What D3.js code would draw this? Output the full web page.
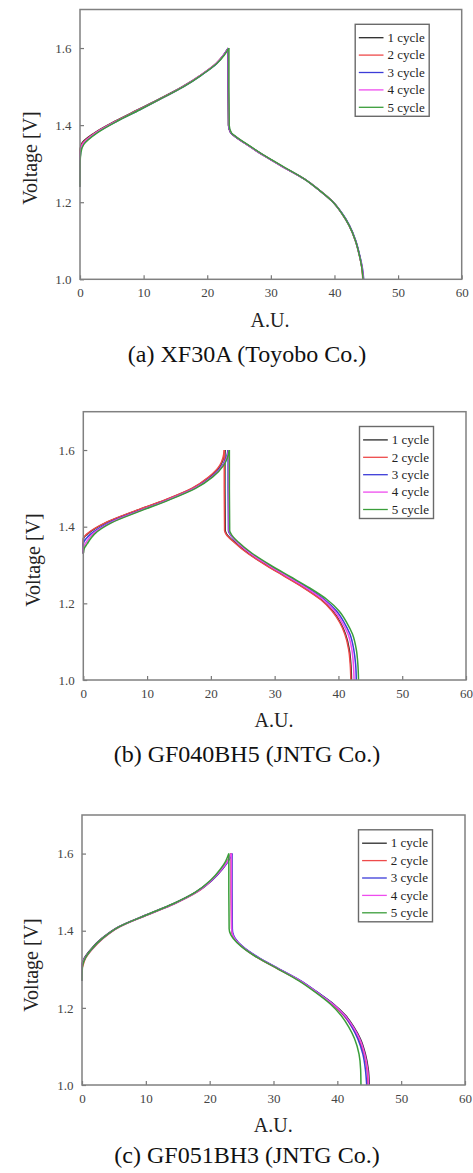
<!DOCTYPE html>
<html>
<head>
<meta charset="utf-8">
<script src="https://cdn.jsdelivr.net/npm/d3@7"></script>
<style>
  body { margin: 0; background: #fff; }
  text { font-family: "Liberation Serif", "Times New Roman", serif; }
</style>
</head>
<body>
<div id="chart"></div>
<script>
// Series names and axis ticks
const cycleNames = ["1 cycle", "2 cycle", "3 cycle", "4 cycle", "5 cycle"];
const xTicks = [0, 10, 20, 30, 40, 50, 60];
const yTicks = [1.0, 1.2, 1.4, 1.6];

// (a) XF30A - charge: voltage grid and capacity per cycle
const chargeV_a = [1.24, 1.30, 1.33, 1.35, 1.38, 1.41, 1.44, 1.47, 1.50, 1.53, 1.56, 1.58, 1.60];
const chargeU_a = [
    [0, 0, 0, 0.2, 2.3, 5.5, 9.1, 12.7, 16.1, 19.0, 21.4, 22.5, 23.3],
    [0, 0, 0, 0.3, 2.4, 5.6, 9.2, 12.8, 16.2, 19.0, 21.4, 22.5, 23.3],
    [0, 0, 0.1, 0.5, 2.6, 5.8, 9.4, 12.9, 16.3, 19.1, 21.5, 22.5, 23.3],
    [0, 0, 0.05, 0.4, 2.5, 5.7, 9.3, 12.9, 16.2, 19.0, 21.4, 22.5, 23.35],
    [0, 0.02, 0.15, 0.6, 2.7, 5.8, 9.4, 12.9, 16.3, 19.1, 21.5, 22.6, 23.4]
];
const dischargeV_a = [1.60, 1.50, 1.40, 1.38, 1.37, 1.35, 1.32, 1.29, 1.26, 1.23, 1.20, 1.17, 1.14, 1.10, 1.06, 1.03, 1.00];
const dischargeU_a = [
    [23.3, 23.3, 23.35, 23.7, 24.4, 26.2, 29.0, 32.1, 35.3, 37.7, 39.8, 41.2, 42.3, 43.3, 43.95, 44.32, 44.5],
    [23.3, 23.3, 23.35, 23.7, 24.4, 26.2, 29.0, 32.1, 35.3, 37.7, 39.8, 41.2, 42.3, 43.3, 43.95, 44.3, 44.45],
    [23.3, 23.3, 23.35, 23.7, 24.4, 26.2, 29.0, 32.1, 35.3, 37.7, 39.8, 41.25, 42.35, 43.35, 44.0, 44.38, 44.6],
    [23.35, 23.35, 23.4, 23.75, 24.45, 26.2, 29.0, 32.1, 35.3, 37.7, 39.8, 41.2, 42.3, 43.3, 43.95, 44.35, 44.55],
    [23.4, 23.4, 23.45, 23.8, 24.5, 26.3, 29.1, 32.2, 35.3, 37.7, 39.8, 41.2, 42.3, 43.3, 43.95, 44.3, 44.5]
];

// (b) GF040BH5
const chargeV_b = [1.33, 1.345, 1.355, 1.37, 1.38, 1.41, 1.44, 1.47, 1.50, 1.53, 1.56, 1.58, 1.60];
const chargeU_b = [
    [0, 0, 0, 0.05, 0.6, 3.5, 8.0, 12.9, 17.1, 19.8, 21.5, 22.0, 22.2],
    [0, 0, 0, 0, 0.5, 3.4, 7.9, 12.8, 17.0, 19.7, 21.4, 21.9, 22.1],
    [0, 0, 0, 0.5, 1.1, 4.0, 8.5, 13.3, 17.4, 20.1, 21.8, 22.4, 22.7],
    [0, 0, 0.3, 0.9, 1.4, 4.2, 8.6, 13.3, 17.4, 20.2, 21.9, 22.5, 22.8],
    [0, 0.2, 0.6, 1.2, 1.7, 4.4, 8.8, 13.5, 17.6, 20.3, 22.0, 22.6, 22.9]
];
const dischargeV_b = [1.60, 1.50, 1.39, 1.38, 1.36, 1.33, 1.30, 1.27, 1.24, 1.21, 1.18, 1.15, 1.12, 1.08, 1.04, 1.00];
const dischargeU_b = [
    [22.2, 22.2, 22.25, 22.5, 23.7, 25.9, 28.7, 31.7, 34.7, 37.3, 39.1, 40.3, 41.1, 41.7, 41.95, 42.05],
    [22.1, 22.1, 22.15, 22.4, 23.6, 25.8, 28.6, 31.6, 34.6, 37.2, 39.0, 40.2, 41.0, 41.6, 41.85, 41.95],
    [22.7, 22.7, 22.75, 23.0, 24.1, 26.3, 29.1, 32.1, 35.2, 37.8, 39.7, 40.9, 41.8, 42.4, 42.7, 42.8],
    [22.8, 22.8, 22.85, 23.1, 24.1, 26.2, 29.0, 32.0, 35.0, 37.6, 39.4, 40.6, 41.5, 42.1, 42.35, 42.45],
    [22.9, 22.9, 22.95, 23.2, 24.3, 26.5, 29.3, 32.4, 35.5, 38.2, 40.1, 41.3, 42.2, 42.8, 43.05, 43.15]
];

// (c) GF051BH3
const chargeV_c = [1.27, 1.30, 1.31, 1.33, 1.35, 1.38, 1.41, 1.44, 1.47, 1.50, 1.53, 1.56, 1.58, 1.60];
const chargeU_c = [
    [0, 0, 0, 0.4, 1.3, 3.1, 5.7, 9.9, 14.3, 17.8, 20.2, 21.9, 22.8, 23.4],
    [0, 0, 0.15, 0.6, 1.5, 3.3, 5.9, 10.1, 14.5, 18.0, 20.3, 22.0, 22.8, 23.4],
    [0, 0, 0, 0.5, 1.4, 3.2, 5.8, 10.0, 14.4, 17.9, 20.3, 22.0, 22.9, 23.5],
    [0, 0, 0, 0.5, 1.4, 3.2, 5.8, 10.0, 14.4, 17.9, 20.2, 21.9, 22.8, 23.4],
    [0, 0.05, 0.1, 0.55, 1.4, 3.2, 5.8, 10.0, 14.3, 17.8, 20.1, 21.7, 22.5, 23.0]
];
const dischargeV_c = [1.60, 1.50, 1.405, 1.39, 1.38, 1.36, 1.33, 1.30, 1.27, 1.24, 1.21, 1.18, 1.15, 1.12, 1.08, 1.04, 1.00];
const dischargeU_c = [
    [23.4, 23.4, 23.45, 23.6, 23.9, 25.0, 27.6, 30.9, 34.2, 36.9, 39.4, 41.3, 42.6, 43.6, 44.4, 44.85, 45.0],
    [23.4, 23.4, 23.45, 23.6, 23.9, 25.0, 27.5, 30.8, 34.1, 36.7, 39.1, 41.0, 42.3, 43.3, 44.2, 44.65, 44.8],
    [23.5, 23.5, 23.55, 23.7, 24.0, 25.1, 27.7, 31.0, 34.3, 36.9, 39.3, 41.1, 42.3, 43.2, 44.0, 44.4, 44.6],
    [23.4, 23.4, 23.45, 23.6, 23.9, 25.0, 27.6, 30.9, 34.2, 36.8, 39.3, 41.2, 42.5, 43.5, 44.3, 44.75, 44.9],
    [23.0, 23.0, 23.05, 23.3, 23.7, 24.9, 27.5, 30.8, 34.0, 36.6, 38.9, 40.6, 41.8, 42.7, 43.4, 43.65, 43.7]
];

// Line colours per cycle
const cycleColors = ["#2a2a2a", "#ee4a4a", "#3c3cd8", "#ee4cee", "#3a9e3a"];

// Panel layouts
const panels = [
    { caption: "(a) XF30A (Toyobo Co.)", left: 80, top: 9.5, right: 461.7, bottom: 279.3,
      yTitleX: 36.5, yTitleY: 158, xTitleX: 270, xTitleY: 327, capX: 247, capY: 362,
      chargeV: chargeV_a, chargeU: chargeU_a, dischargeV: dischargeV_a, dischargeU: dischargeU_a },
    { caption: "(b) GF040BH5 (JNTG Co.)", left: 83.3, top: 411.7, right: 466, bottom: 680,
      yTitleX: 40, yTitleY: 560, xTitleX: 274, xTitleY: 726.7, capX: 247, capY: 761.7,
      chargeV: chargeV_b, chargeU: chargeU_b, dischargeV: dischargeV_b, dischargeU: dischargeU_b },
    { caption: "(c) GF051BH3 (JNTG Co.)", left: 82, top: 815, right: 465, bottom: 1085,
      yTitleX: 38, yTitleY: 965, xTitleX: 273.3, xTitleY: 1131.7, capX: 247, capY: 1163,
      chargeV: chargeV_c, chargeU: chargeU_c, dischargeV: dischargeV_c, dischargeU: dischargeU_c }
];

const svg = d3.select("#chart").append("svg")
    .attr("width", 473)
    .attr("height", 1173);

panels.forEach(p => drawPanel(svg, p));

function drawPanel(svg, p) {
    const x = d3.scaleLinear().domain([0, 60]).range([p.left, p.right]);
    const y = d3.scaleLinear().domain([1.0, 1.7]).range([p.bottom, p.top]);
    const g = svg.append("g");

    // Curves (charge and discharge parts of each cycle)
    const line = d3.line()
        .x(d => x(d[0]))
        .y(d => y(d[1]))
        .curve(d3.curveMonotoneY);

    cycleNames.forEach((name, i) => {
        const charge = p.chargeV.map((v, k) => [p.chargeU[i][k], v]);
        const discharge = p.dischargeV.map((v, k) => [p.dischargeU[i][k], v]);
        [charge, discharge].forEach(pts => {
            g.append("path")
                .attr("d", line(pts))
                .attr("fill", "none")
                .attr("stroke", cycleColors[i])
                .attr("stroke-width", 1.5);
        });
    });

    // Axes with inward ticks
    const xAxis = g.append("g")
        .attr("transform", `translate(0,${p.bottom})`)
        .call(d3.axisBottom(x).tickValues(xTicks).tickSizeInner(-4).tickSizeOuter(0).tickPadding(8.5));
    const yAxis = g.append("g")
        .attr("transform", `translate(${p.left},0)`)
        .call(d3.axisLeft(y).tickValues(yTicks).tickFormat(d3.format(".1f"))
            .tickSizeInner(-4).tickSizeOuter(0).tickPadding(8.5));

    [xAxis, yAxis].forEach(a => {
        a.select(".domain").remove();
        a.selectAll("line").attr("stroke", "#777").attr("stroke-width", 1.2);
        a.selectAll("text")
            .attr("fill", "#444")
            .style("font-size", "13px")
            .style("font-family", "'Liberation Serif', 'Times New Roman', serif");
    });

    // Plot frame
    g.append("rect")
        .attr("x", p.left)
        .attr("y", p.top)
        .attr("width", p.right - p.left)
        .attr("height", p.bottom - p.top)
        .attr("fill", "none")
        .attr("stroke", "#808080")
        .attr("stroke-width", 1.5);

    // Legend
    const lg = g.append("g")
        .attr("transform", `translate(${p.right - 106.5},${p.top + 14.8})`);
    lg.append("rect")
        .attr("width", 74)
        .attr("height", 92)
        .attr("fill", "#fff")
        .attr("stroke", "#6a6a6a")
        .attr("stroke-width", 1.4);
    cycleNames.forEach((name, i) => {
        const ry = 13.4 + i * 17.4;
        lg.append("line")
            .attr("x1", 3.6).attr("x2", 28.3)
            .attr("y1", ry).attr("y2", ry)
            .attr("stroke", cycleColors[i])
            .attr("stroke-width", 1.3);
        lg.append("text")
            .attr("x", 32.3)
            .attr("y", ry + 4.3)
            .attr("fill", "#222")
            .style("font-size", "13px")
            .text(name);
    });

    // Axis titles
    g.append("text")
        .attr("transform", `translate(${p.yTitleX},${p.yTitleY}) rotate(-90)`)
        .attr("text-anchor", "middle")
        .attr("fill", "#222")
        .style("font-size", "20px")
        .text("Voltage [V]");

    g.append("text")
        .attr("x", p.xTitleX)
        .attr("y", p.xTitleY)
        .attr("text-anchor", "middle")
        .attr("fill", "#222")
        .style("font-size", "20px")
        .text("A.U.");

    // Caption
    g.append("text")
        .attr("x", p.capX)
        .attr("y", p.capY)
        .attr("text-anchor", "middle")
        .attr("fill", "#111")
        .style("font-size", "24px")
        .text(p.caption);
}
</script>
</body>
</html>
